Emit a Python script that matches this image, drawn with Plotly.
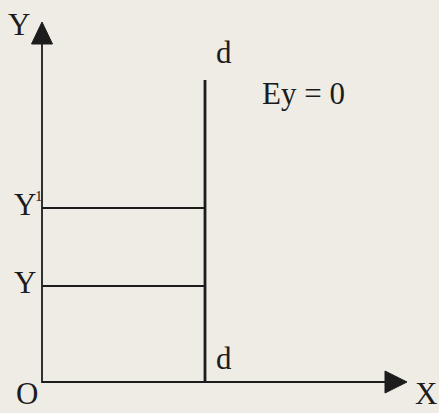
import plotly.graph_objects as go

# Diagram coordinates: origin O at (0, 0), x to the right, y upward
x_axis_end = 343        # where the X arrowhead starts
x_arrow_tip = 365
y_axis_end = 339        # where the Y arrowhead starts
y_arrow_tip = 360
d_position = 163        # the vertical line d-d
d_top = 302
level_names = ["Y", "Y"]
level_marks = ["", "1"]
level_values = [96, 174]

ink = "#1c1c1c"
paper = "#eeece5"
font_family = "Liberation Serif, Times New Roman, serif"

fig = go.Figure()

# axes
fig.add_trace(go.Scatter(x=[0, 0, x_axis_end], y=[y_axis_end, 0, 0],
                         mode="lines", line=dict(color=ink, width=1.8),
                         hoverinfo="skip"))
# arrowheads
fig.add_trace(go.Scatter(x=[-10.5, 10.5, 0, -10.5],
                         y=[y_axis_end - 1, y_axis_end - 1, y_arrow_tip, y_axis_end - 1],
                         mode="lines", fill="toself", fillcolor=ink,
                         line=dict(color=ink, width=1), hoverinfo="skip"))
fig.add_trace(go.Scatter(x=[x_axis_end, x_axis_end, x_arrow_tip, x_axis_end],
                         y=[-11, 11, 0, -11],
                         mode="lines", fill="toself", fillcolor=ink,
                         line=dict(color=ink, width=1), hoverinfo="skip"))
# vertical line d-d
fig.add_trace(go.Scatter(x=[d_position, d_position], y=[0, d_top],
                         mode="lines", line=dict(color=ink, width=2.8),
                         hoverinfo="skip"))
# horizontal lines at Y and Y'
for v in level_values:
    fig.add_trace(go.Scatter(x=[0, d_position], y=[v, v],
                             mode="lines", line=dict(color=ink, width=2),
                             hoverinfo="skip"))


def label(text, x, y, size=31, yanchor="middle"):
    fig.add_annotation(x=x, y=y, text=text, showarrow=False,
                       font=dict(family=font_family, size=size, color=ink),
                       xanchor="center", yanchor=yanchor)


label("Y", -23, 358)
label("d", 182, 330)
label("Ey = 0", 261, 289)
label("d", 182, 24)
label("O", -15, -31, yanchor="bottom")
label("X", 384, -31, yanchor="bottom")

for name, mark, v in zip(level_names, level_marks, level_values):
    label(name, -17, v + 4)
    if mark:
        label(mark, -3, v + 12, size=15)

fig.update_layout(
    width=439, height=413,
    margin=dict(l=0, r=0, t=0, b=0),
    paper_bgcolor=paper, plot_bgcolor=paper,
    showlegend=False,
    xaxis=dict(range=[-42, 397], visible=False, fixedrange=True),
    yaxis=dict(range=[-31, 382], visible=False, fixedrange=True),
)

fig.write_html("out.html", config={"displayModeBar": False})
